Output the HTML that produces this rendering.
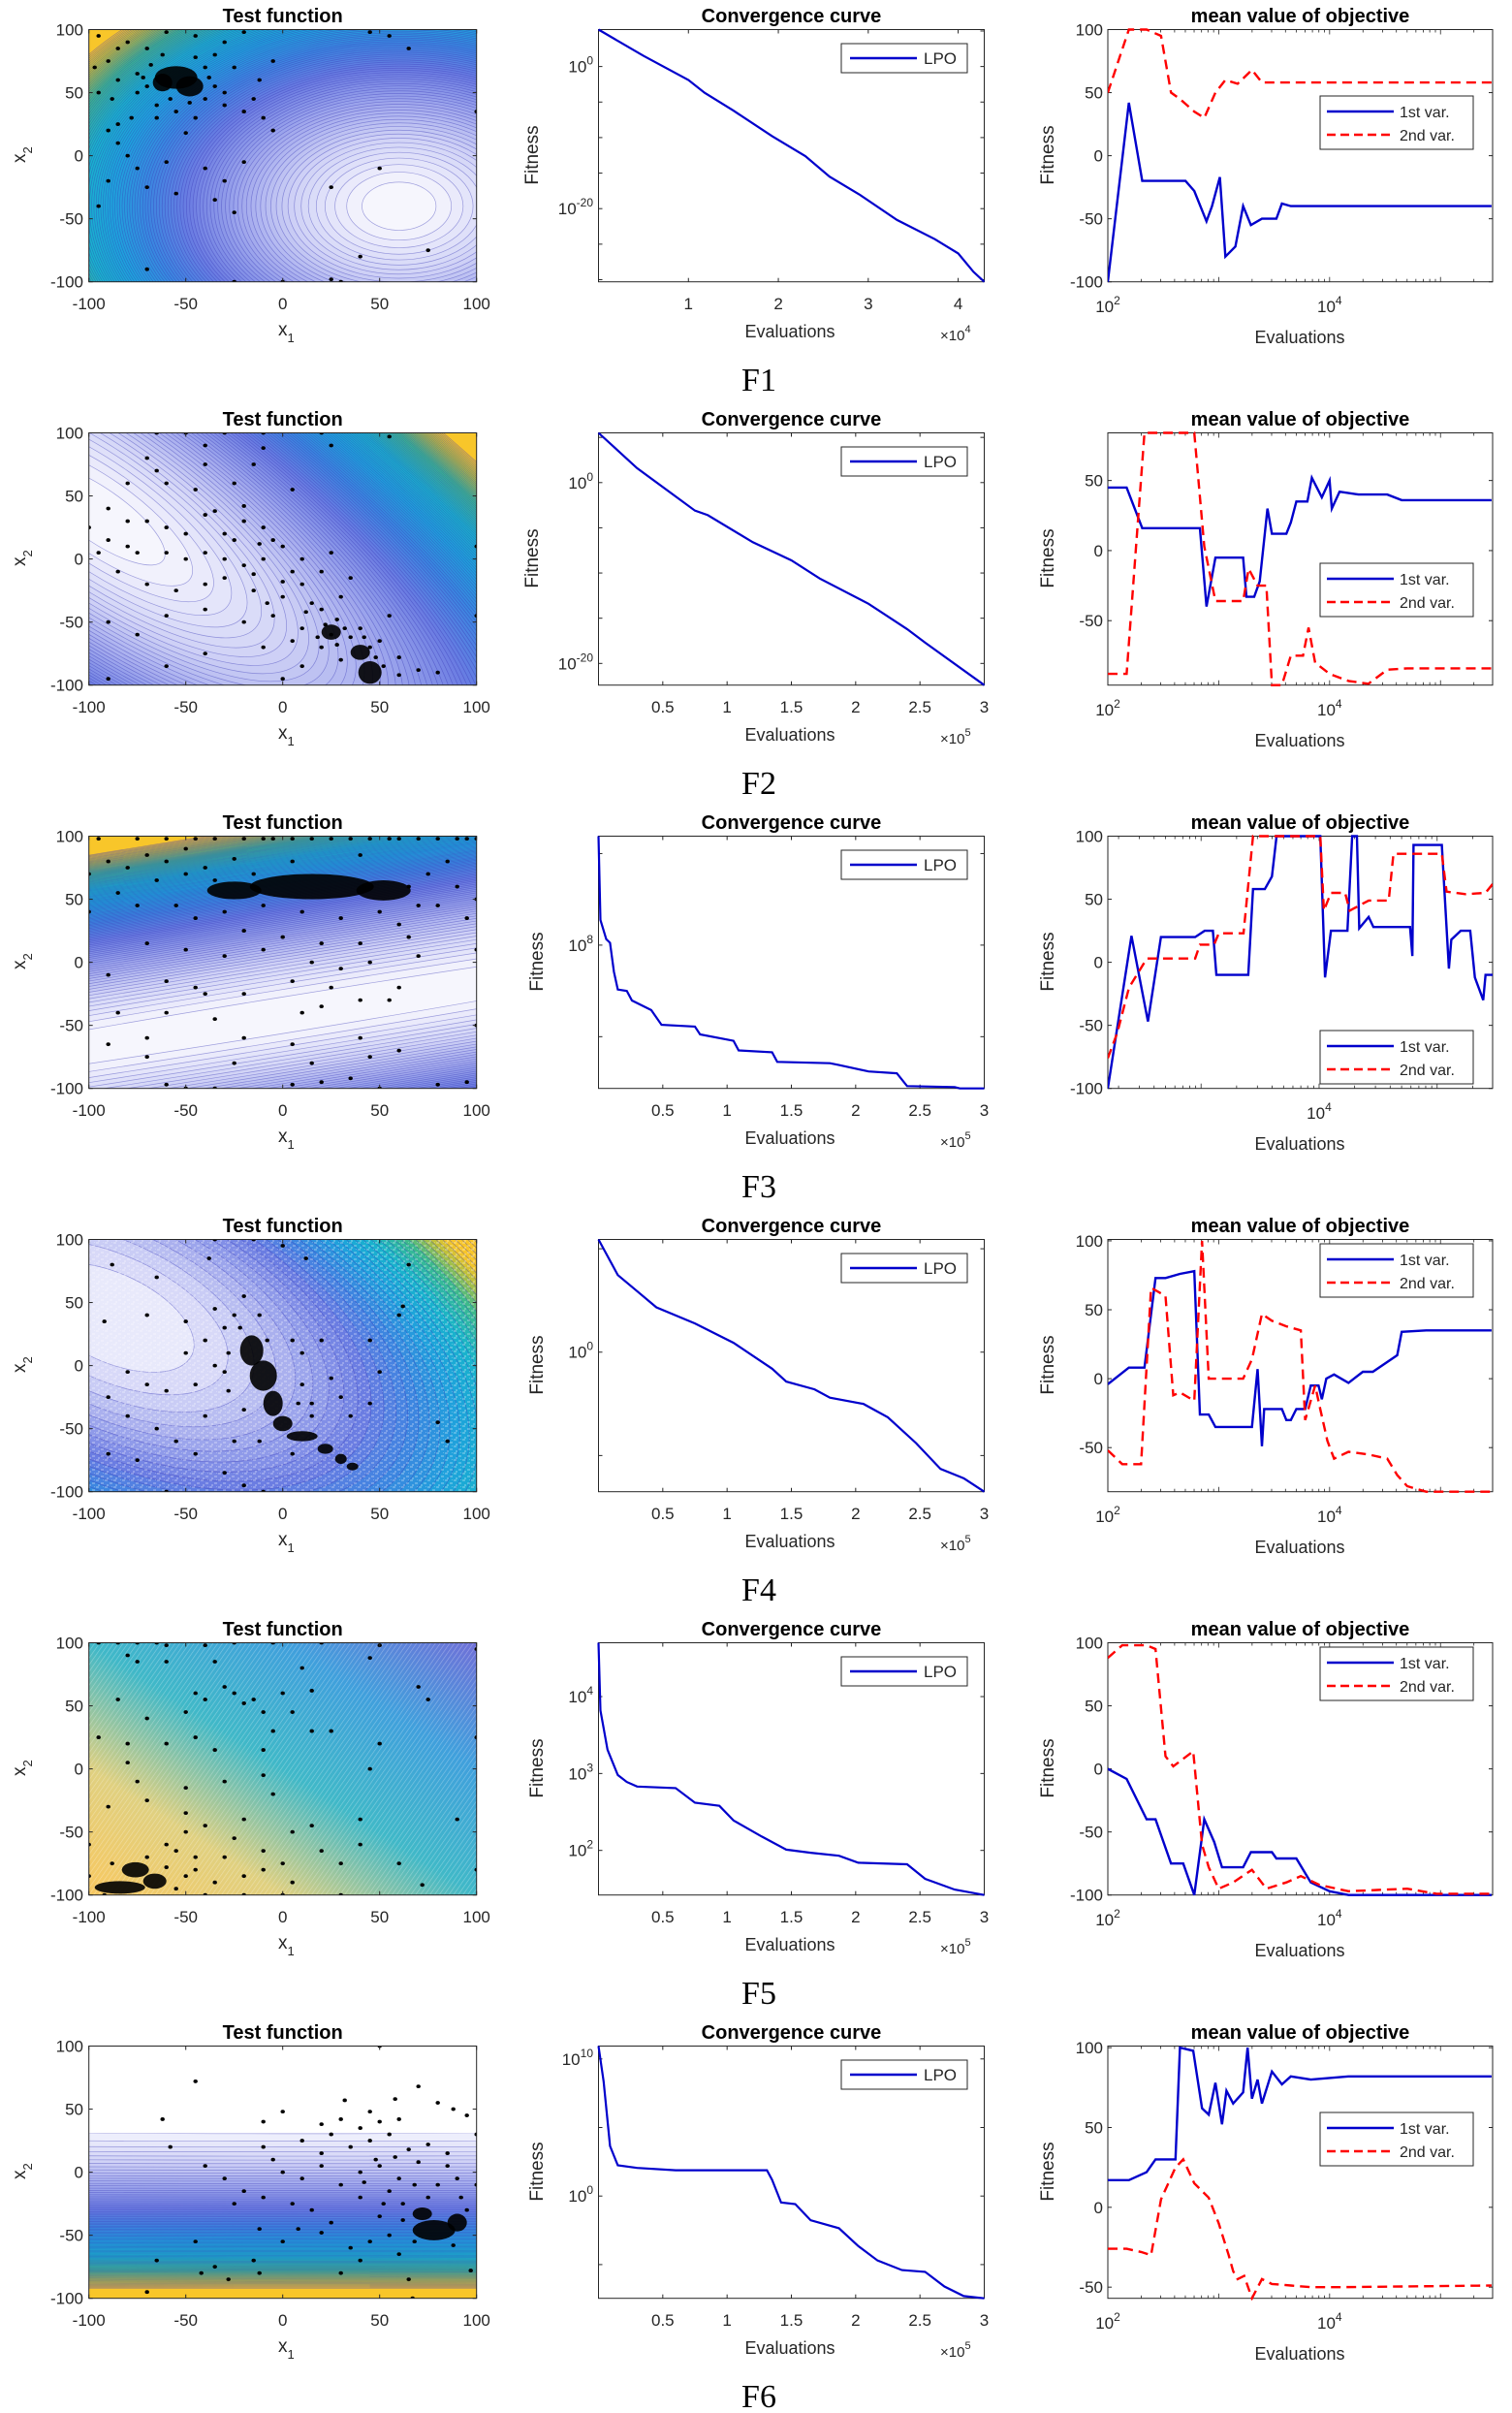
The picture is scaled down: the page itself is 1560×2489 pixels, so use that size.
<!DOCTYPE html>
<html><head><meta charset="utf-8"><style>
html,body{margin:0;padding:0;background:#fff;}
svg{display:block;font-family:"Liberation Sans",Arial,sans-serif;}
</style></head><body>
<svg id="fig" xmlns="http://www.w3.org/2000/svg" width="1560" height="2489" viewBox="0 0 1560 2489">
<defs>
<pattern id="hatch" width="4" height="4" patternUnits="userSpaceOnUse" patternTransform="rotate(35)"><line x1="0" y1="0" x2="0" y2="4" stroke="#ffffff" stroke-opacity="0.35" stroke-width="1.2"/></pattern>
<pattern id="noise" width="9" height="7" patternUnits="userSpaceOnUse"><path d="M0 1h3M5 4h3M2 6h2M7 0h1" stroke="#ffffff" stroke-opacity="0.5" stroke-width="1"/></pattern>
<linearGradient id="g5" x1="0" y1="1" x2="1" y2="0"><stop offset="0" stop-color="#f8c860"/><stop offset="0.25" stop-color="#e0d080"/><stop offset="0.5" stop-color="#40b8c8"/><stop offset="0.75" stop-color="#40a0dc"/><stop offset="1" stop-color="#7070d8"/></linearGradient>
</defs>
</svg>
<script>
// ---------------- DATA ----------------
const convEvals_F1=[0,0.5,1.0,1.18,1.5,1.93,2.3,2.57,2.9,3.32,3.74,4.0,4.17,4.29];
const convLog_F1=[5.2,1.5,-1.9,-3.7,-6.2,-9.8,-12.6,-15.5,-18.0,-21.6,-24.3,-26.3,-28.9,-30.3];
const convEvals_F2=[0,0.3,0.75,0.85,1.2,1.5,1.72,2.1,2.4,2.54,3.0];
const convLog_F2=[5.5,1.6,-3.1,-3.6,-6.6,-8.6,-10.6,-13.4,-16.2,-17.7,-22.4];
const convEvals_F3=[0,0.015,0.06,0.09,0.12,0.15,0.22,0.26,0.41,0.49,0.75,0.79,1.05,1.09,1.35,1.39,1.8,1.87,2.1,2.32,2.4,2.77,2.81,3.0];
const convLog_F3=[10.38,8.55,8.13,8.05,7.42,7.03,7.0,6.79,6.58,6.26,6.22,6.05,5.91,5.70,5.66,5.45,5.42,5.38,5.24,5.2,4.92,4.9,4.87,4.87];
const convEvals_F4=[0,0.15,0.3,0.45,0.75,1.05,1.35,1.46,1.68,1.8,2.06,2.25,2.47,2.66,2.84,3.0];
const convLog_F4=[10.9,7.46,5.9,4.34,2.78,0.9,-1.6,-2.85,-3.6,-4.4,-5.0,-6.3,-8.8,-11.3,-12.2,-13.5];
const convEvals_F5=[0,0.015,0.07,0.15,0.22,0.3,0.6,0.75,0.94,1.05,1.27,1.46,1.65,1.87,2.02,2.4,2.54,2.77,3.0];
const convLog_F5=[4.7,3.82,3.31,2.98,2.89,2.83,2.81,2.62,2.58,2.39,2.18,2.01,1.97,1.93,1.84,1.82,1.63,1.49,1.42];
const convEvals_F6=[0,0.04,0.09,0.15,0.3,0.6,1.31,1.35,1.42,1.53,1.65,1.87,2.02,2.17,2.36,2.54,2.69,2.84,3.0];
const convLog_F6=[10.94,8.35,3.65,2.24,2.05,1.88,1.88,1.18,-0.47,-0.59,-1.77,-2.35,-3.65,-4.7,-5.4,-5.53,-6.6,-7.3,-7.46];

const meanEv1_F1=[2.0,2.19,2.31,2.70,2.78,2.89,2.94,3.01,3.06,3.15,3.22,3.29,3.39,3.52,3.57,3.65,5.46];
const meanV1_F1=[-100,42,-20,-20,-28,-52,-40,-17,-80,-72,-40,-55,-50,-50,-38,-40,-40];
const meanEv2_F1=[2.0,2.19,2.35,2.48,2.57,2.65,2.78,2.87,2.97,3.06,3.17,3.30,3.39,5.46];
const meanV2_F1=[50,100,100,95,50,45,35,30,50,60,57,68,58,58];
const meanEv1_F2=[2.00,2.17,2.31,2.83,2.89,2.97,3.22,3.25,3.32,3.37,3.44,3.48,3.61,3.65,3.70,3.80,3.84,3.93,4.00,4.02,4.09,4.26,4.52,4.65,5.46];
const meanV1_F2=[45,45,16,16,-40,-5,-5,-33,-33,-22,30,12,12,20,35,35,52,38,50,30,42,40,40,36,36];
const meanEv2_F2=[2.00,2.17,2.33,2.78,2.87,2.97,3.22,3.27,3.35,3.43,3.48,3.57,3.65,3.76,3.81,3.87,4.00,4.17,4.35,4.52,4.70,5.46];
const meanV2_F2=[-88,-88,84,84,3,-36,-36,-13,-25,-25,-96,-96,-75,-75,-55,-80,-88,-93,-95,-85,-84,-84];
const meanEv1_F3=[2.21,2.41,2.55,2.66,2.95,3.03,3.10,3.13,3.40,3.44,3.54,3.60,3.64,4.01,4.05,4.10,4.24,4.28,4.32,4.34,4.42,4.46,4.77,4.79,4.80,5.04,5.10,5.12,5.20,5.28,5.32,5.39,5.41,5.47];
const meanV1_F3=[-100,21,-47,20,20,25,25,-10,-10,58,58,68,100,100,-12,25,25,100,100,27,36,28,28,5,93,93,-5,18,25,25,-12,-30,-10,-10];
const meanEv2_F3=[2.21,2.29,2.39,2.54,2.66,2.95,2.99,3.11,3.15,3.36,3.44,4.01,4.04,4.10,4.22,4.26,4.42,4.59,4.63,5.04,5.08,5.24,5.41,5.47];
const meanV2_F3=[-76,-56,-20,3,3,3,14,14,23,23,100,100,41,55,55,41,49,49,86,86,56,54,55,62];
const meanEv1_F4=[2.00,2.19,2.33,2.43,2.52,2.65,2.78,2.83,2.91,2.97,3.30,3.35,3.39,3.41,3.57,3.61,3.65,3.70,3.78,3.83,3.90,3.93,3.97,4.04,4.17,4.30,4.39,4.61,4.65,4.87,5.46];
const meanV1_F4=[-4,8,8,73,73,76,78,-26,-26,-35,-35,7,-49,-22,-22,-30,-30,-22,-22,-5,-5,-15,0,3,-3,5,5,17,34,35,35];
const meanEv2_F4=[2.00,2.13,2.30,2.39,2.52,2.59,2.65,2.78,2.85,2.91,3.22,3.30,3.39,3.48,3.61,3.74,3.78,3.87,3.91,3.98,4.04,4.17,4.35,4.52,4.61,4.70,4.87,5.46];
const meanV2_F4=[-52,-62,-62,66,60,-12,-10,-16,100,0,0,14,47,42,38,35,-30,-5,-20,-45,-58,-53,-55,-58,-70,-78,-82,-82];
const meanEv1_F5=[2.00,2.17,2.35,2.43,2.57,2.68,2.78,2.87,2.96,3.03,3.22,3.29,3.48,3.52,3.70,3.83,4.00,4.17,5.46];
const meanV1_F5=[0,-8,-40,-40,-75,-75,-100,-40,-58,-78,-78,-66,-66,-71,-71,-90,-97,-100,-100];
const meanEv2_F5=[2.00,2.13,2.35,2.43,2.52,2.59,2.77,2.85,2.91,3.00,3.13,3.30,3.43,3.61,3.74,3.91,4.17,4.43,4.70,4.96,5.46];
const meanV2_F5=[88,98,98,95,10,2,14,-60,-78,-95,-90,-80,-95,-90,-85,-92,-97,-96,-95,-99,-99];
const meanEv1_F6=[2.00,2.19,2.35,2.43,2.61,2.65,2.77,2.85,2.91,2.97,3.03,3.07,3.13,3.22,3.26,3.30,3.35,3.39,3.48,3.57,3.65,3.83,4.17,5.46];
const meanV1_F6=[17,17,22,30,30,100,98,62,58,78,52,73,65,72,100,68,80,65,85,77,82,80,82,82];
const meanEv2_F6=[2.00,2.17,2.30,2.39,2.48,2.61,2.68,2.78,2.91,3.00,3.09,3.13,3.17,3.23,3.30,3.39,3.48,3.65,3.83,4.09,5.46];
const meanV2_F6=[-26,-26,-28,-30,5,25,30,15,6,-10,-30,-40,-45,-43,-57,-45,-48,-49,-50,-50,-49];

const pts_F1=[[-95,95],[-80,90],[-70,85],[-60,98],[-45,95],[-30,90],[-20,98],[45,98],[55,95],[65,85],[-90,75],[-85,60],[-75,50],[-65,40],[-55,35],[-45,30],[-40,45],[-35,55],[-30,40],[-25,70],[-20,35],[-15,45],[-10,30],[-5,75],[-90,20],[-85,10],[-80,0],[-75,-10],[-70,-25],[-60,-5],[-40,-10],[-30,-20],[-20,-5],[-55,-30],[-35,-35],[-25,-45],[-95,-40],[-90,-20],[25,-25],[50,-10],[40,-80],[75,-75],[-70,-90],[-25,-100],[0,-100],[25,-98],[30,-100],[100,35],[-97,70],[-95,50],[-85,25],[-78,30],[-50,18],[-12,60],[-5,20],[-68,72],[-72,62],[-40,70],[-35,80],[-62,80],[-75,65],[-70,55],[-38,62],[-45,78],[-58,45],[-48,42],[-65,30],[-30,50],[-85,85],[-88,45]];
const clu_F1=[[-55,62,11,9],[-48,55,7,8],[-62,58,5,7]];
const pts_F2=[[-65,100],[-50,100],[-30,100],[-10,100],[20,100],[55,97],[-40,90],[-10,88],[25,90],[-70,80],[-65,70],[-40,75],[-15,75],[-80,60],[-60,60],[-45,55],[-25,60],[5,55],[-90,40],[-80,30],[-70,30],[-60,25],[-40,35],[-30,20],[-20,30],[-10,25],[-5,15],[-90,15],[-80,10],[-75,5],[-60,5],[-50,0],[-40,5],[-30,0],[-20,-5],[-10,0],[0,10],[10,0],[20,-10],[25,5],[-85,-10],[-70,-20],[-55,-25],[-40,-20],[-30,-15],[-15,-25],[0,-30],[10,-20],[20,-40],[30,-30],[35,-15],[-90,-50],[-60,-45],[-40,-40],[-20,-50],[-5,-45],[10,-55],[25,-60],[40,-55],[50,-65],[55,-45],[-75,-60],[-40,-75],[-10,-70],[5,-65],[20,-70],[30,-80],[45,-70],[60,-78],[70,-88],[80,-90],[-60,-85],[-90,-95],[0,-95],[10,-85],[60,-92],[100,-45],[100,10],[-100,25],[-95,5],[-35,38],[-20,42],[-12,12],[5,-10],[15,-35],[28,-48],[35,-62],[-25,15],[-15,-12],[0,-18],[12,-42],[22,-52],[32,-55],[18,-62],[28,-68],[48,-78],[52,-85],[42,-62],[-50,20],[-8,-35]];
const clu_F2=[[45,-90,6,9],[25,-58,5,6],[40,-74,5,6]];
const pts_F3=[[-95,98],[-75,98],[-60,98],[-45,98],[-35,98],[-20,98],[-10,98],[-5,98],[5,98],[15,98],[25,98],[35,98],[45,98],[55,98],[60,98],[70,98],[80,98],[90,98],[95,98],[100,98],[-70,85],[-60,80],[-50,90],[-40,75],[-80,75],[-90,80],[-65,65],[-85,55],[-75,45],[-55,45],[-45,35],[-30,40],[-10,45],[10,40],[30,35],[50,40],[60,30],[70,45],[-20,25],[0,20],[20,15],[40,15],[65,20],[-70,15],[-50,10],[-30,5],[-10,10],[15,0],[30,-5],[45,0],[70,5],[-90,-10],[-60,-15],[-45,-20],[-20,-25],[5,-15],[25,-20],[40,-30],[60,-20],[-85,-40],[-60,-40],[-40,-25],[10,-40],[20,-35],[55,-30],[-35,-45],[-70,-60],[-20,-60],[5,-65],[40,-60],[-90,-65],[-70,-75],[-25,-80],[15,-80],[45,-75],[60,-70],[-60,-97],[-50,-100],[-35,-100],[5,-97],[20,-95],[35,-92],[50,-100],[80,-97],[95,-95],[100,10],[100,50],[100,-50],[-100,40],[-100,70],[85,80],[75,70],[90,60],[-25,82],[5,80],[40,85],[-50,70],[-35,65],[80,45],[95,35],[65,60],[-15,70]];
const clu_F3=[[15,60,32,10],[-25,57,14,7],[52,57,14,8]];
const pts_F4=[[-30,30],[-25,40],[-35,45],[-20,55],[-40,20],[-50,10],[-30,-5],[-45,-15],[-60,-20],[-70,-15],[-80,-5],[-90,-25],[-80,-40],[-65,-50],[-55,-60],[-45,-70],[-75,-75],[-90,-70],[-30,-85],[-20,-95],[-10,-100],[-60,-100],[10,10],[20,20],[25,-10],[30,-25],[45,-30],[50,-5],[45,20],[60,40],[62,47],[65,80],[12,85],[-38,85],[-65,70],[-92,35],[-70,40],[-50,35],[-40,-40],[-25,-60],[15,-30],[35,-40],[80,-45],[85,-60],[-88,80],[-15,100],[-35,100],[0,95],[-28,10],[-35,0],[5,20],[10,-15],[-22,30],[-12,40],[-28,-20],[-20,-35],[-12,-60],[5,-70],[15,-40],[-8,20],[8,-30]];
const clu_F4=[[-16,12,6,12],[-10,-8,7,12],[-5,-30,5,10],[0,-46,5,6],[10,-56,8,4],[22,-66,4,4],[30,-74,3,4],[36,-80,3,3]];
const pts_F5=[[-95,100],[-85,100],[-75,100],[-65,100],[-60,98],[-40,98],[-25,100],[-5,100],[20,100],[50,98],[100,95],[-80,90],[-75,85],[-60,85],[-35,85],[10,80],[45,88],[-30,65],[-25,60],[-20,52],[-45,60],[-40,55],[-85,55],[-15,55],[0,60],[15,62],[-70,40],[-50,45],[-10,45],[5,45],[15,30],[25,30],[50,20],[70,65],[75,55],[-95,25],[-80,20],[-60,20],[-45,25],[-35,15],[-10,15],[-5,30],[-80,5],[-75,-10],[-50,-15],[-30,-10],[-10,-5],[-5,-20],[45,0],[-90,-30],[-70,-25],[-50,-35],[-40,-45],[-20,-40],[-25,-55],[-50,-50],[5,-50],[15,-45],[40,-40],[90,-40],[-60,-60],[-45,-70],[-30,-70],[-10,-65],[0,-75],[20,-65],[30,-75],[40,-60],[-35,-90],[-20,-85],[-10,-80],[5,-90],[60,-75],[72,-92],[-100,-85],[-100,-60],[100,-80],[100,25],[-40,-100],[-20,-100],[0,-100],[30,-100],[-55,-65],[-60,-78],[-50,-85],[-70,-70],[-55,-95],[-45,-80],[-88,-75],[-92,-100]];
const clu_F5=[[-84,-94,13,5],[-76,-80,7,6],[-66,-89,6,6]];
const pts_F6=[[50,100],[-45,72],[-62,42],[70,68],[58,58],[32,57],[45,48],[80,55],[88,50],[-10,40],[0,48],[20,38],[30,42],[40,35],[50,40],[60,42],[95,45],[-58,20],[-10,20],[-5,10],[10,25],[20,15],[25,30],[35,20],[45,25],[55,30],[65,18],[75,22],[85,15],[100,30],[-40,5],[-30,-5],[-20,-15],[-10,-20],[0,0],[10,-5],[20,5],[30,-10],[40,0],[50,5],[60,-5],[70,8],[90,-5],[100,-10],[-25,-25],[5,-25],[15,-30],[25,-40],[40,-20],[50,-35],[55,-15],[62,-25],[92,-20],[-12,-45],[0,-55],[8,-45],[20,-48],[35,-60],[45,-55],[55,-50],[60,-65],[-45,-55],[-65,-70],[-35,-75],[-42,-80],[-12,-80],[-15,-70],[30,-80],[40,-70],[65,-85],[97,-78],[-70,-95],[67,-100],[-28,-85],[48,10],[58,12],[42,-8],[68,-10],[80,-10],[85,5],[62,-38],[68,-55],[88,-58],[95,-30],[52,-25],[75,-20]];
const clu_F6=[[78,-46,11,8],[72,-33,5,5],[90,-40,5,7]];

const midXTicks_F1=[1,2,3,4];
const midXTicks=[0.5,1,1.5,2,2.5,3];
const midYLabels_F1=[0,-20]; const midYLabels_F2=[0,-20]; const midYLabels_F3=[8];
const midYLabels_F4=[0]; const midYLabels_F5=[4,3,2]; const midYLabels_F6=[10,0];
const leftTicks=[-100,-50,0,50,100];

// ---------------- RENDER ----------------
const NS='http://www.w3.org/2000/svg';
const svg=document.getElementById('fig');
function el(tag,attrs,parent){const e=document.createElementNS(NS,tag);for(const k in attrs)e.setAttribute(k,attrs[k]);(parent||svg).appendChild(e);return e;}
const ROW=416, PT=30.5, PB=290.7;
const LP={x0:91.7,x1:491.7}, MP={x0:617.5,x1:1015.5}, RP={x0:1143,x1:1540};
const rampStops=[[0,'#ffffff'],[0.12,'#f4f4fd'],[0.28,'#d0d2f6'],[0.42,'#9ea6ec'],[0.55,'#6a7ce2'],[0.65,'#3c86e0'],[0.74,'#1ea2dc'],[0.82,'#18b4cc'],[0.9,'#3cba8c'],[0.96,'#b8c03c'],[1,'#f8c62a']];
function hex(c){return [1,3,5].map(i=>parseInt(c.substr(i,2),16));}
function ramp(t){t=Math.max(0,Math.min(1,t));for(let i=1;i<rampStops.length;i++){if(t<=rampStops[i][0]){const a=rampStops[i-1],b=rampStops[i];const f=(t-a[0])/(b[0]-a[0]);const ca=hex(a[1]),cb=hex(b[1]);return 'rgb('+ca.map((v,j)=>Math.round(v+(cb[j]-v)*f)).join(',')+')';}}return rampStops[rampStops.length-1][1];}
function text(str,x,y,size,opts,parent){const t=el('text',Object.assign({x:x,y:y,'font-size':size,fill:'#262626','text-anchor':'middle'},opts||{}),parent);t.textContent=str;return t;}
function pow10(exp,x,y,parent,anchorEnd){const t=el('text',{x:x,y:y,'font-size':17,fill:'#262626','text-anchor':anchorEnd?'end':'middle'},parent);
  const a=el('tspan',{},t);a.textContent='10';const b=el('tspan',{dy:-8,'font-size':12},t);b.textContent=String(exp);return t;}

function concentric(g,cx,cy,rMinor,aspect,ang,n,boost){
  boost=boost||1;
  const gg=el('g',{transform:'translate('+cx+','+cy+') rotate('+ang+')'},g);
  for(let k=n;k>=1;k--){const f=Math.sqrt(k/n);const r=rMinor*f;
    el('ellipse',{cx:0,cy:0,rx:r*aspect,ry:r,fill:ramp(f*boost),stroke:'#3a3ab8','stroke-opacity':0.45,'stroke-width':0.7},gg);}
}

function leftPanel(r,top,pts,clu){
  const g=el('g',{});
  
  
  const W=LP.x1-LP.x0,H=PB-PT;
  const cid='clipL'+r; const cp=el('clipPath',{id:cid},g); el('rect',{x:LP.x0,y:top+PT,width:W,height:H},cp);
  const bg=el('g',{'clip-path':'url(#'+cid+')'},g);
  
  
  const X=v=>LP.x0+(v+100)/200*W, Y=v=>top+PT+(100-v)/200*H;
  el('rect',{x:LP.x0,y:top+PT,width:W,height:H,fill:ramp(1)},bg);
  if(r===0){concentric(bg,X(60),Y(-40),260,402/261,0,110);}
  if(r===1){concentric(bg,X(-95),Y(35),285,3.0,35,110);}
  if(r===2){concentric(bg,X(0),Y(-42),195,30,-9.2,110);}
  if(r===3){concentric(bg,X(-88),Y(38),380,2.0,25,70,1.45);el('rect',{x:LP.x0,y:top+PT,width:W,height:H,fill:'url(#noise)'},bg);}
  if(r===4){el('rect',{x:LP.x0,y:top+PT,width:W,height:H,fill:'url(#g5)'},bg);el('rect',{x:LP.x0,y:top+PT,width:W,height:H,fill:'url(#hatch)'},bg);}
  if(r===5){concentric(bg,X(0),Y(45),Y(-92)-Y(45),40,0,90);el('rect',{x:LP.x0,y:top+PT,width:W,height:Y(31)-top-PT,fill:'#fff'},bg);}
  const sc=el('g',{'clip-path':'url(#'+cid+')'},g);
  
  
  clu.forEach(c=>{const e=el('ellipse',{cx:X(c[0]),cy:Y(c[1]),rx:c[2]/200*W,ry:c[3]/200*H,fill:'#000','fill-opacity':0.9},sc);
    
    });
  pts.forEach(p=>{const e=el('ellipse',{cx:X(p[0]),cy:Y(p[1]),rx:2.2,ry:1.9,fill:'#000'},sc);
    
    });
  el('rect',{x:LP.x0,y:top+PT,width:W,height:H,fill:'none',stroke:'#262626','stroke-width':1},g);
  leftTicks.forEach(v=>{
    el('line',{x1:X(v),x2:X(v),y1:top+PT,y2:top+PT+4,stroke:'#262626'},g);
    el('line',{x1:X(v),x2:X(v),y1:top+PB,y2:top+PB-4,stroke:'#262626'},g);
    el('line',{x1:LP.x0,x2:LP.x0+4,y1:Y(v),y2:Y(v),stroke:'#262626'},g);
    el('line',{x1:LP.x1,x2:LP.x1-4,y1:Y(v),y2:Y(v),stroke:'#262626'},g);
    text(String(v),X(v),top+319,17,{},g);
    text(String(v),86,Y(v)+6,17,{'text-anchor':'end'},g);
  });
  const t=text('Test function',(LP.x0+LP.x1)/2,top+23,20,{'font-weight':'bold',fill:'#000'},g);
  
  
  const xl=el('text',{x:287,y:top+346,'font-size':19,fill:'#262626'},g);
  
  
  let a=el('tspan',{},xl);a.textContent='x';let b=el('tspan',{dy:7,'font-size':13},xl);b.textContent='1';
  const yl=el('text',{x:0,y:0,'font-size':19,fill:'#262626',transform:'translate(26,'+(top+168)+') rotate(-90)'},g);
  
  
  a=el('tspan',{},yl);a.textContent='x';b=el('tspan',{dy:7,'font-size':13},yl);b.textContent='2';
}

function midPanel(r,top,ev,lg,xmax,lmin,lmax,xt,yl,ystep,mult){
  const g=el('g',{});
  
  
  const W=MP.x1-MP.x0,H=PB-PT;
  const X=v=>MP.x0+v/xmax*W, Y=v=>top+PT+(lmax-v)/(lmax-lmin)*H;
  el('rect',{x:MP.x0,y:top+PT,width:W,height:H,fill:'#fff',stroke:'#262626','stroke-width':1},g);
  xt.forEach(v=>{el('line',{x1:X(v),x2:X(v),y1:top+PT,y2:top+PT+4,stroke:'#262626'},g);
    el('line',{x1:X(v),x2:X(v),y1:top+PB,y2:top+PB-4,stroke:'#262626'},g);
    const t=text(String(v),X(v),top+319,17,{},g);
    
    });
  for(let v=Math.ceil(lmin/ystep)*ystep;v<=lmax;v+=ystep){
    el('line',{x1:MP.x0,x2:MP.x0+4,y1:Y(v),y2:Y(v),stroke:'#262626'},g);
    el('line',{x1:MP.x1,x2:MP.x1-4,y1:Y(v),y2:Y(v),stroke:'#262626'},g);}
  yl.forEach(v=>{const t=pow10(v,612,Y(v)+6,g,true);
    
    });
  const d=ev.map((v,i)=>(i?'L':'M')+X(v).toFixed(1)+' '+Y(lg[i]).toFixed(1)).join(' ');
  const p=el('path',{d:d,fill:'none',stroke:'#0000cc','stroke-width':2.2},g);
  
  
  const lgd=el('g',{},g);
  
  
  el('rect',{x:868,y:top+45,width:130,height:30,fill:'#fff',stroke:'#262626'},lgd);
  el('line',{x1:877,x2:946,y1:top+60,y2:top+60,stroke:'#0000cc','stroke-width':2.5},lgd);
  text('LPO',970,top+66,17,{},lgd);
  const t=text('Convergence curve',(MP.x0+MP.x1)/2,top+23,20,{'font-weight':'bold',fill:'#000'},g);
  
  
  const xlab=text('Evaluations',815,top+348,18,{},g);
  
  
  const mt=el('text',{x:970,y:top+351,'font-size':15,fill:'#262626'},g);
  let a=el('tspan',{},mt);a.textContent='×10';let b=el('tspan',{dy:-8,'font-size':11},mt);b.textContent=String(mult);
  const yt=text('Fitness',0,0,19,{transform:'translate('+(r===0||r===1?555:560)+','+(top+160)+') rotate(-90)'},g);
  
  
}

function rightPanel(r,top,e1,v1,e2,v2,lmin,ymin,ymax,yt,xLabels,legTop){
  const g=el('g',{});
  
  
  const W=RP.x1-RP.x0,H=PB-PT,lmax=5.47;
  const X=v=>RP.x0+(v-lmin)/(lmax-lmin)*W, Y=v=>top+PT+(ymax-v)/(ymax-ymin)*H;
  el('rect',{x:RP.x0,y:top+PT,width:W,height:H,fill:'#fff',stroke:'#262626','stroke-width':1},g);
  for(let d=2;d<=5;d++)for(let m=1;m<10;m++){const lv=d+Math.log10(m);if(lv<lmin||lv>lmax)continue;const L=m===1?5:3;
    el('line',{x1:X(lv),x2:X(lv),y1:top+PT,y2:top+PT+L,stroke:'#262626','stroke-width':0.8},g);
    el('line',{x1:X(lv),x2:X(lv),y1:top+PB,y2:top+PB-L,stroke:'#262626','stroke-width':0.8},g);}
  xLabels.forEach(e=>{const t=pow10(e,X(e),top+322,g,false);
    
    });
  yt.forEach(v=>{el('line',{x1:RP.x0,x2:RP.x0+4,y1:Y(v),y2:Y(v),stroke:'#262626'},g);
    el('line',{x1:RP.x1,x2:RP.x1-4,y1:Y(v),y2:Y(v),stroke:'#262626'},g);
    const t=text(String(v),1138,Y(v)+6,17,{'text-anchor':'end'},g);
    
    });
  const cid='clipR'+r;const cp=el('clipPath',{id:cid},g);el('rect',{x:RP.x0,y:top+PT-2,width:W,height:H+4},cp);
  const lg=el('g',{'clip-path':'url(#'+cid+')'},g);
  const d1=e1.map((v,i)=>(i?'L':'M')+X(v).toFixed(1)+' '+Y(v1[i]).toFixed(1)).join(' ');
  const d2=e2.map((v,i)=>(i?'L':'M')+X(v).toFixed(1)+' '+Y(v2[i]).toFixed(1)).join(' ');
  const p1=el('path',{d:d1,fill:'none',stroke:'#0000cc','stroke-width':2.4},lg);
  
  
  const p2=el('path',{d:d2,fill:'none',stroke:'#ff0000','stroke-width':2.4,'stroke-dasharray':'10 6'},lg);
  
  
  const lgd=el('g',{},g);
  
  
  el('rect',{x:1362,y:top+legTop,width:158,height:55,fill:'#fff',stroke:'#262626'},lgd);
  el('line',{x1:1369,x2:1438,y1:top+legTop+16,y2:top+legTop+16,stroke:'#0000cc','stroke-width':2.5},lgd);
  el('line',{x1:1369,x2:1438,y1:top+legTop+40,y2:top+legTop+40,stroke:'#ff0000','stroke-width':2.5,'stroke-dasharray':'9 5'},lgd);
  text('1st var.',1444,top+legTop+22,16,{'text-anchor':'start'},lgd);
  text('2nd var.',1444,top+legTop+46,16,{'text-anchor':'start'},lgd);
  const t=text('mean value of objective',(RP.x0+RP.x1)/2,top+23,20,{'font-weight':'bold',fill:'#000'},g);
  
  
  const xlab=text('Evaluations',1341,top+354,18,{},g);
  
  
  const ytt=text('Fitness',0,0,19,{transform:'translate(1087,'+(top+160)+') rotate(-90)'},g);
  
  
}

const rows=[
 {pts:pts_F1,clu:clu_F1,ce:convEvals_F1,cl:convLog_F1,xmax:4.29,lmin:-30.3,lmax:5.2,xt:midXTicks_F1,yl:midYLabels_F1,ys:5,mult:4,
  e1:meanEv1_F1,v1:meanV1_F1,e2:meanEv2_F1,v2:meanV2_F1,rl:2,ymin:-100,ymax:100,yt:[-100,-50,0,50,100],xl:[2,4],leg:99},
 {pts:pts_F2,clu:clu_F2,ce:convEvals_F2,cl:convLog_F2,xmax:3,lmin:-22.4,lmax:5.5,xt:midXTicks,yl:midYLabels_F2,ys:5,mult:5,
  e1:meanEv1_F2,v1:meanV1_F2,e2:meanEv2_F2,v2:meanV2_F2,rl:2,ymin:-96,ymax:84,yt:[-50,0,50],xl:[2,4],leg:165},
 {pts:pts_F3,clu:clu_F3,ce:convEvals_F3,cl:convLog_F3,xmax:3,lmin:4.87,lmax:10.38,xt:midXTicks,yl:midYLabels_F3,ys:2,mult:5,
  e1:meanEv1_F3,v1:meanV1_F3,e2:meanEv2_F3,v2:meanV2_F3,rl:2.21,ymin:-100,ymax:100,yt:[-100,-50,0,50,100],xl:[4],leg:231},
 {pts:pts_F4,clu:clu_F4,ce:convEvals_F4,cl:convLog_F4,xmax:3,lmin:-13.5,lmax:10.9,xt:midXTicks,yl:midYLabels_F4,ys:10,mult:5,
  e1:meanEv1_F4,v1:meanV1_F4,e2:meanEv2_F4,v2:meanV2_F4,rl:2,ymin:-82,ymax:101,yt:[-50,0,50,100],xl:[2,4],leg:35},
 {pts:pts_F5,clu:clu_F5,ce:convEvals_F5,cl:convLog_F5,xmax:3,lmin:1.42,lmax:4.7,xt:midXTicks,yl:midYLabels_F5,ys:1,mult:5,
  e1:meanEv1_F5,v1:meanV1_F5,e2:meanEv2_F5,v2:meanV2_F5,rl:2,ymin:-100,ymax:100,yt:[-100,-50,0,50,100],xl:[2,4],leg:35},
 {pts:pts_F6,clu:clu_F6,ce:convEvals_F6,cl:convLog_F6,xmax:3,lmin:-7.46,lmax:10.94,xt:midXTicks,yl:midYLabels_F6,ys:5,mult:5,
  e1:meanEv1_F6,v1:meanV1_F6,e2:meanEv2_F6,v2:meanV2_F6,rl:2,ymin:-57,ymax:101,yt:[-50,0,50,100],xl:[2,4],leg:99}
];
rows.forEach((R,r)=>{
  const top=r*ROW;
  leftPanel(r,top,R.pts,R.clu);
  midPanel(r,top,R.ce,R.cl,R.xmax,R.lmin,R.lmax,R.xt,R.yl,R.ys,R.mult);
  rightPanel(r,top,R.e1,R.v1,R.e2,R.v2,R.rl,R.ymin,R.ymax,R.yt,R.xl,R.leg);
  const f=text('F'+(r+1),783,top+403,34,{'font-family':'"Liberation Serif",serif',fill:'#000'});
  
  
});
</script>
</body></html>
